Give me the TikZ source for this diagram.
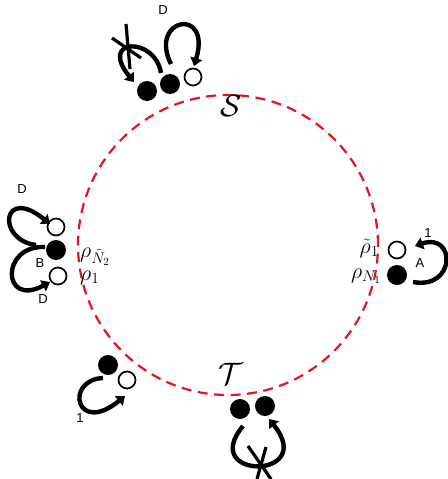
\RequirePackage{fix-cm}
\documentclass[tikz,border=0pt]{standalone}
\usepackage{fontspec}
\newfontfamily\lblfont{Liberation Sans}
\usetikzlibrary{arrows.meta}
\begin{document}
\begin{tikzpicture}[x=1pt,y=-1pt,
  full/.style={circle,fill=black,minimum size=20pt,inner sep=0pt},
  empty/.style={circle,draw=black,line width=1.7pt,fill=white,minimum size=17pt,inner sep=0pt},
  loop/.style={line width=4.4pt,-{Triangle[length=8pt,width=12pt]}},
  crossline/.style={line width=3.2pt},
  lbl/.style={font=\lblfont\fontsize{13}{14}\selectfont,inner sep=0pt},
  mlbl/.style={font=\fontsize{22}{24}\selectfont,inner sep=0pt},
  setlbl/.style={font=\fontsize{31}{34}\selectfont,inner sep=0pt}]
\useasboundingbox (0,0) rectangle (447,479);
% dashed red circle
\node[circle,draw={rgb,255:red,230;green,20;blue,30},line width=2.2pt,dash pattern=on 10pt off 6.5pt,minimum size=300pt,inner sep=0pt] (ring) at (228,245) {};
\node[setlbl] (S) at (231,106) {$\mathcal{S}$};
\node[setlbl] (T) at (231,374) {$\mathcal{T}$};
% top cluster
\node[full] (t1) at (147,91) {};
\node[full] (t2) at (170,84) {};
\node[empty] (t3) at (193,77) {};
\coordinate (td0) at (171,64);
\coordinate (tx0) at (161,73);
\draw[loop] (td0) .. controls (148,18) and (212,6) .. (194,66);
\draw[loop] (tx0) .. controls (155,36) and (98,38) .. (134,82);
\coordinate (xa1) at (112,38); \coordinate (xa2) at (141,58);
\coordinate (xb1) at (126,24); \coordinate (xb2) at (130,69);
\draw[crossline] (xa1) -- (xa2);
\draw[crossline] (xb1) -- (xb2);
\node[lbl] (Dt) at (163,10) {D};
% left cluster
\node[empty] (l1) at (56,227) {};
\node[full] (l2) at (56,250) {};
\node[empty] (l3) at (58,276) {};
\coordinate (lu0) at (36,245);
\coordinate (ll0) at (45,247);
\draw[loop] (lu0) .. controls (-4,240) and (2,185) .. (50,224);
\draw[loop] (ll0) .. controls (0,245) and (2,308) .. (50,282);
\node[lbl] (Dl1) at (22,189) {D};
\node[lbl] (Bl) at (40,263) {B};
\node[lbl] (Dl2) at (43,299) {D};
\node[mlbl,anchor=base west] (rhoN2) at (80,257) {$\rho_{\tilde N_2}$};
\node[mlbl,anchor=base west] (rho1) at (80,280) {$\rho_1$};
% right cluster
\node[empty] (r1) at (397,250) {};
\node[full] (r2) at (397,275) {};
\coordinate (ra0) at (413,282);
\draw[loop] (ra0) .. controls (456,290) and (456,232) .. (415,246);
\node[lbl] (one1) at (428,233) {1};
\node[lbl] (Ar) at (420,263) {A};
\node[mlbl,anchor=base east] (trho1) at (379,253) {$\tilde\rho_1$};
\node[mlbl,anchor=base east] (rhoN1) at (381,278) {$\rho_{N_1}$};
% bottom-left cluster
\node[full] (bl1) at (108,365) {};
\node[empty] (bl2) at (127,380) {};
\coordinate (bla0) at (103,378);
\draw[loop] (bla0) .. controls (64,380) and (76,436) .. (125,396);
\node[lbl] (one2) at (80,418) {1};
% bottom cluster
\node[full] (b1) at (240,409) {};
\node[full] (b2) at (265,406) {};
\coordinate (bb0) at (243,426);
\coordinate (bb1) at (269,419);
\draw[loop] (bb0) .. controls (198,480) and (318,480) .. (bb1);
\coordinate (ya1) at (248,446); \coordinate (ya2) at (271,479);
\coordinate (yb1) at (266,447); \coordinate (yb2) at (257,479);
\draw[crossline] (ya1) -- (ya2);
\draw[crossline] (yb1) -- (yb2);
\end{tikzpicture}
\end{document}
